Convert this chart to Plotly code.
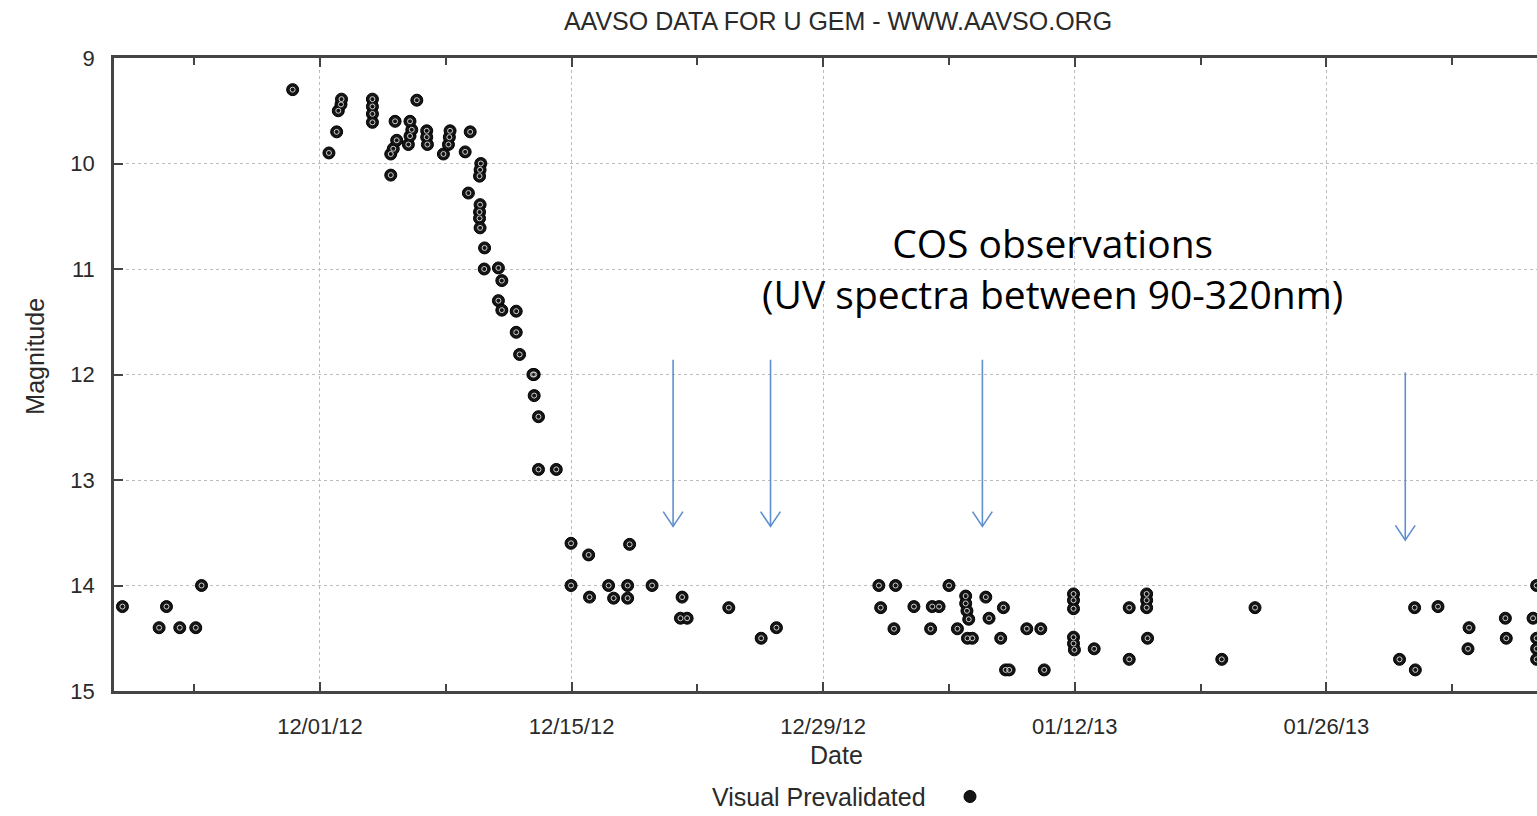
import numpy as np
import pandas as pd
import plotly.graph_objects as go

# ---- Data (Julian Dates and visual magnitudes) ----
obs_jd = [
    2456251.51, 2456253.55, 2456253.96, 2456254.70, 2456255.59, 2456255.91,
    2456260.98, 2456263.00, 2456263.43, 2456263.52, 2456263.67, 2456263.70,
    2456265.42, 2456265.42, 2456265.42, 2456265.42,
    2456266.44, 2456266.44, 2456266.58, 2456266.68, 2456266.77,
    2456267.42, 2456267.51, 2456267.61, 2456267.51, 2456267.89,
    2456268.44, 2456268.44, 2456268.48,
    2456269.37, 2456269.65, 2456269.70, 2456269.74,
    2456270.58, 2456270.86, 2456270.76,
    2456271.45, 2456271.41, 2456271.38, 2456271.41, 2456271.38, 2456271.38, 2456271.41,
    2456271.66, 2456271.64, 2456272.43, 2456272.62, 2456272.43, 2456272.62,
    2456273.42, 2456273.42, 2456273.61, 2456274.42, 2456274.35, 2456274.42,
    2456274.66, 2456274.66, 2456275.65,
    2456276.47, 2456276.47, 2456277.45, 2456277.50, 2456278.56, 2456278.84,
    2456279.62, 2456279.62, 2456279.73, 2456280.98,
    2456282.65, 2456282.56, 2456282.93, 2456285.25, 2456287.05, 2456287.90,
    2456293.60, 2456293.70, 2456294.44, 2456294.53, 2456295.55, 2456296.48,
    2456296.57, 2456296.95, 2456297.50, 2456297.97,
    2456298.43, 2456298.43, 2456298.50, 2456298.60, 2456298.53, 2456298.80,
    2456299.55, 2456299.73, 2456300.38, 2456300.53, 2456300.65, 2456300.85,
    2456301.83, 2456302.61, 2456302.80,
    2456304.43, 2456304.43, 2456304.43, 2456304.43, 2456304.43, 2456304.48,
    2456305.58, 2456307.53, 2456307.53,
    2456308.50, 2456308.50, 2456308.50, 2456308.55,
    2456312.68, 2456314.53,
    2456322.57, 2456323.41, 2456323.45, 2456324.71,
    2456326.38, 2456326.44, 2456328.46, 2456328.51,
    2456330.00, 2456330.20, 2456330.20, 2456330.20, 2456330.20,
]
obs_mag = [
    14.2, 14.4, 14.2, 14.4, 14.4, 14.0,
    9.3, 9.9, 9.7, 9.5, 9.44, 9.39,
    9.39, 9.46, 9.53, 9.61,
    9.91, 10.11, 9.86, 9.60, 9.78,
    9.82, 9.74, 9.68, 9.60, 9.40,
    9.69, 9.75, 9.82,
    9.91, 9.82, 9.75, 9.69,
    9.89, 9.70, 10.28,
    10.0, 10.06, 10.12, 10.39, 10.46, 10.52, 10.61,
    10.80, 11.0, 10.99, 11.11, 11.30, 11.39,
    11.40, 11.60, 11.81, 12.0, 12.0, 12.20,
    12.40, 12.90, 12.90,
    13.6, 14.0, 13.71, 14.11, 14.0, 14.12,
    14.0, 14.12, 13.61, 14.0,
    14.11, 14.31, 14.31, 14.21, 14.5, 14.4,
    14.0, 14.21, 14.41, 14.0, 14.2, 14.41,
    14.2, 14.2, 14.0, 14.41,
    14.1, 14.17, 14.24, 14.32, 14.5, 14.5,
    14.11, 14.31, 14.5, 14.21, 14.8, 14.8,
    14.41, 14.41, 14.8,
    14.08, 14.14, 14.22, 14.49, 14.55, 14.61,
    14.6, 14.21, 14.7,
    14.08, 14.14, 14.21, 14.5,
    14.7, 14.21,
    14.7, 14.21, 14.8, 14.2,
    14.6, 14.4, 14.31, 14.5,
    14.31, 14.0, 14.5, 14.6, 14.7,
]

# COS observation markers (arrows)
cos_jd = [2456282.15, 2456287.57, 2456299.36, 2456322.89]
cos_top_mag = [11.86, 11.86, 11.86, 11.98]
cos_tip_mag = [13.44, 13.44, 13.44, 13.57]

x_range_jd = [2456251.04, 2456330.22]
y_range = [15, 9]

JD_UNIX = 2440587.5


def jd_to_dt(v):
    return pd.to_datetime(np.asarray(v, dtype=float) - JD_UNIX, unit="D")


obs_dt = jd_to_dt(obs_jd)

# Plot geometry (pixels) for layout placement
W, H = 1537, 816
L, R, T, B = 114, 0, 58, 118
pw, ph = W - L - R, H - T - B

fig = go.Figure()

# arrows as thin lines with open chevron heads
head_days = 0.55
head_mag = 0.14
ax, ay = [], []
for d, top, tip in zip(jd_to_dt(cos_jd), cos_top_mag, cos_tip_mag):
    dd = pd.Timedelta(days=head_days)
    ax += [d, d, None, d - dd, d, d + dd, None]
    ay += [top, tip, None, tip - head_mag, tip, tip - head_mag, None]
fig.add_trace(go.Scatter(
    x=ax, y=ay, mode="lines",
    line=dict(color="#5f8fce", width=1.6),
    hoverinfo="skip", showlegend=False,
))

fig.add_trace(go.Scatter(
    x=obs_dt, y=obs_mag, mode="markers", name=" ",
    marker=dict(symbol="circle", size=12, color="#151515",
                line=dict(color="#000000", width=1)),
    showlegend=True,
))
fig.add_trace(go.Scatter(
    x=obs_dt, y=obs_mag, mode="markers",
    marker=dict(symbol="circle-open", size=5, color="#cfcfcf",
                line=dict(color="#cfcfcf", width=1)),
    hoverinfo="skip", showlegend=False,
))

font_main = "Liberation Sans, Arial, sans-serif"

fig.update_layout(
    width=W, height=H,
    margin=dict(l=L, r=R, t=T, b=B, pad=0),
    paper_bgcolor="white", plot_bgcolor="white",
    font=dict(family=font_main, size=22, color="#2a2a2a"),
    title=dict(text="AAVSO DATA FOR U GEM - WWW.AAVSO.ORG",
               x=838 / W, xanchor="center", xref="container",
               y=1 - 21 / H, yanchor="middle", yref="container",
               font=dict(size=25, color="#2a2a2a", family=font_main)),
    showlegend=True,
    legend=dict(orientation="h", x=(950 - L) / pw, xanchor="left",
                y=(T + ph - 805) / ph, yanchor="middle",
                bgcolor="rgba(0,0,0,0)", font=dict(size=20)),
    xaxis=dict(
        type="date",
        range=list(jd_to_dt(x_range_jd)),
        tick0="2012-12-01", dtick=14 * 86400000,
        tickformat="%m/%d/%y",
        ticks="inside", ticklen=9, tickwidth=1.5, tickcolor="#444",
        showline=True, linecolor="#444", linewidth=2.5, mirror="ticks",
        showgrid=True, gridcolor="#bcbcbc", gridwidth=1, griddash="dot",
        zeroline=False, ticklabelstandoff=14,
        minor=dict(tick0="2012-12-01", dtick=7 * 86400000, ticks="inside",
                   ticklen=7, tickcolor="#444", showgrid=False),
        tickfont=dict(size=22),
    ),
    yaxis=dict(
        range=y_range, dtick=1,
        ticks="inside", ticklen=9, tickwidth=1.5, tickcolor="#444",
        showline=True, linecolor="#444", linewidth=2.5, mirror=False,
        showgrid=True, gridcolor="#bcbcbc", gridwidth=1, griddash="dot",
        zeroline=False, ticklabelstandoff=12,
        tickfont=dict(size=22),
    ),
    annotations=[
        dict(text="Date", xref="paper", yref="paper",
             x=(836 - L) / pw, y=(T + ph - 763) / ph,
             xanchor="center", yanchor="middle", showarrow=False,
             font=dict(size=25)),
        dict(text="Magnitude", xref="paper", yref="paper",
             x=(35 - L) / pw, y=(T + ph - 360) / ph, textangle=-90,
             xanchor="center", yanchor="middle", showarrow=False,
             font=dict(size=25)),
        dict(text="Visual Prevalidated", xref="paper", yref="paper",
             x=(819 - L) / pw, y=(T + ph - 805) / ph,
             xanchor="center", yanchor="middle", showarrow=False,
             font=dict(size=25)),
        dict(text="COS observations<br>(UV spectra between 90-320nm)",
             xref="paper", yref="paper",
             x=(1052 - L) / pw, y=(T + ph - 270) / ph,
             xanchor="center", yanchor="middle", align="center",
             showarrow=False,
             font=dict(family="Open Sans, Lato, sans-serif", size=39,
                       color="#000000")),
    ],
)

fig.write_html("out.html")
